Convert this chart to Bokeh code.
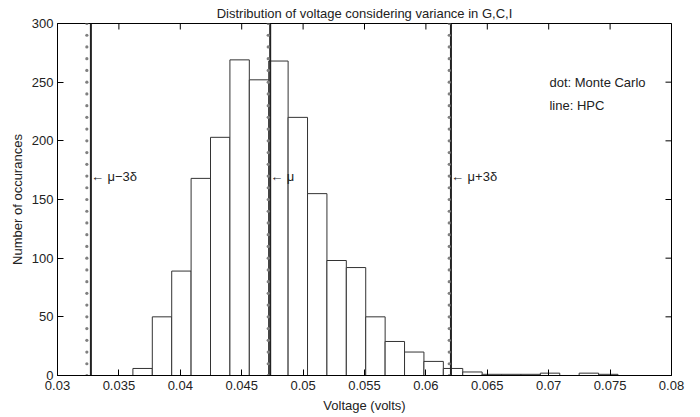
from bokeh.plotting import figure
from bokeh.models import Range1d, FixedTicker, ColumnDataSource
from bokeh.core.properties import value
from bokeh.embed import file_html
from bokeh.resources import INLINE
import math

# ---- data ----
bin_edges = [0.03614, 0.03772, 0.03930, 0.04088, 0.04246, 0.04404, 0.04562,
             0.04720, 0.04878, 0.05036, 0.05194, 0.05352, 0.05510, 0.05668,
             0.05826, 0.05984, 0.06142, 0.06300, 0.06458, 0.06616, 0.06774,
             0.06932, 0.07090, 0.07248, 0.07406, 0.07564]
counts = [6, 50, 89, 168, 203, 269, 252, 268, 220, 155, 98, 92, 50,
          29, 20, 12, 6, 3, 1, 1, 1, 2, 0, 2, 1]

mc_marks = [0.03239, 0.04716, 0.06190]      # Monte Carlo (dotted)
hpc_marks = [0.03272, 0.04732, 0.06204]     # HPC (solid)
mark_labels = ["\u2190 \u03bc\u22123\u03b4", "\u2190 \u03bc", "\u2190 \u03bc+3\u03b4"]
mark_label_y = 170
dot_levels = list(range(0, 301, 10))

x_ticks = [0.03, 0.035, 0.04, 0.045, 0.05, 0.055, 0.06, 0.065, 0.07, 0.075, 0.08]
x_tick_labels = ["0.03", "0.035", "0.04", "0.045", "0.05", "0.055", "0.06",
                 "0.065", "0.07", "0.075", "0.08"]
y_ticks = [0, 50, 100, 150, 200, 250, 300]

note_x = 0.07006
notes = ["dot: Monte Carlo", "line: HPC"]
notes_y = [250, 230]

X_MIN, X_MAX = 0.03, 0.08
Y_MIN, Y_MAX = 0, 300

FONT = "Liberation Sans"
FS = "13px"
INK = "#222222"

p = figure(width=700, height=417, output_backend="svg", toolbar_location=None,
           x_range=Range1d(X_MIN, X_MAX), y_range=Range1d(Y_MIN, Y_MAX),
           min_border_left=57, min_border_right=29, min_border_top=23,
           min_border_bottom=42,
           title="Distribution of voltage considering variance in G,C,I")
p.title.align = "center"
p.title.text_font = FONT
p.title.text_font_size = FS
p.title.text_font_style = "normal"
p.title.text_color = INK
p.title.standoff = 6
p.grid.visible = False
p.outline_line_color = "black"
p.outline_line_width = 1
p.background_fill_color = "white"

# histogram
src = ColumnDataSource(dict(left=bin_edges[:-1], right=bin_edges[1:],
                            top=counts, bottom=[0] * len(counts)))
p.quad(left="left", right="right", top="top", bottom="bottom", source=src,
       fill_color="white", line_color="#333333", line_width=1)

# HPC solid lines
for xv in hpc_marks:
    p.segment(x0=[xv], x1=[xv], y0=[Y_MIN], y1=[Y_MAX], line_color=INK, line_width=2)

# Monte Carlo dotted lines
for xv in mc_marks:
    p.scatter(x=[xv] * len(dot_levels), y=dot_levels, size=3.2,
              fill_color="#808080", line_color=None)

# annotations
p.text(x=hpc_marks, y=[mark_label_y] * 3, text=mark_labels,
       text_font=value(FONT), text_font_size=FS, text_align="left",
       text_baseline="middle", text_color=INK)
p.text(x=[note_x] * 2, y=notes_y, text=notes,
       text_font=value(FONT), text_font_size=FS, text_align="left",
       text_baseline="middle", text_color=INK)

# inward ticks on top and right edges (half of each dash is clipped by the frame)
p.scatter(x=x_ticks, y=[Y_MAX] * len(x_ticks), marker="dash", size=12,
          angle=math.pi / 2, line_color="black", line_width=1)
p.scatter(x=[X_MAX] * len(y_ticks), y=y_ticks, marker="dash", size=12,
          line_color="black", line_width=1)

overrides = {t: s for t, s in zip(x_ticks, x_tick_labels)}

def style_axis(ax, ticks):
    ax.ticker = FixedTicker(ticks=ticks)
    ax.major_tick_in = 6
    ax.major_tick_out = 0
    ax.minor_tick_line_color = None
    ax.axis_line_color = "black"
    ax.major_tick_line_color = "black"
    ax.major_label_text_font = FONT
    ax.major_label_text_font_size = FS
    ax.major_label_text_color = INK
    ax.major_label_standoff = 4
    ax.axis_label_text_font = FONT
    ax.axis_label_text_font_size = FS
    ax.axis_label_text_font_style = "normal"
    ax.axis_label_text_color = INK
    ax.axis_label_standoff = 4

xa = p.xaxis[0]
style_axis(xa, x_ticks)
xa.major_label_overrides = overrides
xa.major_label_standoff = 5
xa.axis_label_standoff = 5
xa.axis_label = "Voltage (volts)"
ya = p.yaxis[0]
style_axis(ya, y_ticks)
ya.axis_label = "Number of occurances"

open("out.html", "w").write(file_html(p, INLINE))
